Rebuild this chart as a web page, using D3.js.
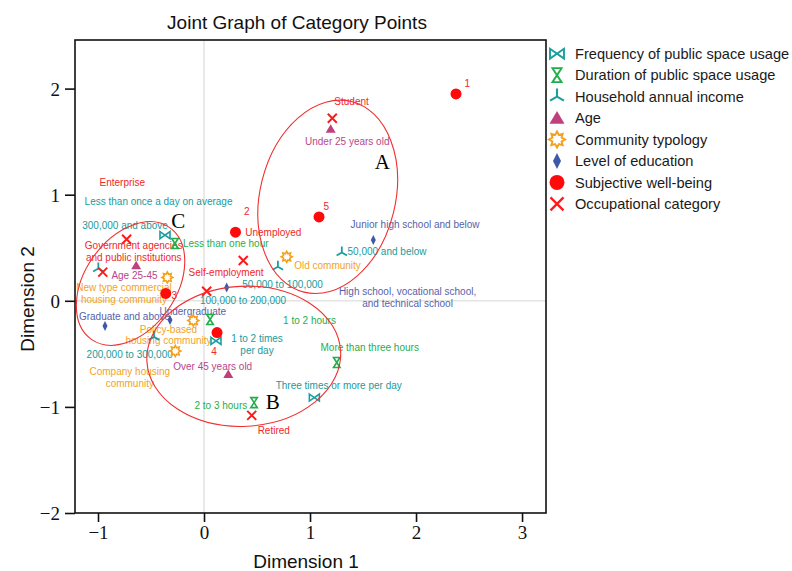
<!DOCTYPE html>
<html>
<head>
<meta charset="utf-8">
<script src="https://cdn.jsdelivr.net/npm/d3@7"></script>
<style>
  html, body { margin: 0; padding: 0; background: #fff; }
  svg { display: block; }
</style>
</head>
<body>
<svg id="chart" width="792" height="571"></svg>
<script>
// ---- Category point coordinates (Dimension 1, Dimension 2) ----
const freqCats = ["Less than once a day on average", "1 to 2 times per day", "Three times or more per day"];
const freqDim1 = [-0.368, 0.113, 1.041];
const freqDim2 = [0.619, -0.378, -0.912];

const durCats = ["Less than one hour", "1 to 2 hours", "2 to 3 hours", "More than three hours"];
const durDim1 = [-0.274, 0.057, 0.472, 1.252];
const durDim2 = [0.540, -0.176, -0.960, -0.582];

const incomeCats = ["300,000 and above", "200,000 to 300,000", "100,000 to 200,000", "50,000 to 100,000", "50,000 and below"];
const incomeDim1 = [-0.997, -0.472, null, 0.697, 1.300];
const incomeDim2 = [0.305, -0.340, null, 0.320, 0.455];

const ageCats = ["Under 25 years old", "Age 25-45", "Over 45 years old"];
const ageDim1 = [1.195, -0.640, 0.229];
const ageDim2 = [1.620, 0.333, -0.692];

const commCats = ["New type commercial housing community", "Policy-based housing community", "Company housing community", "Old community"];
const commDim1 = [-0.346, -0.101, -0.271, 0.780];
const commDim2 = [0.220, -0.186, -0.473, 0.414];

const eduCats = ["Junior high school and below", "High school, vocational school, and technical school", "Undergraduate", "Graduate and above"];
const eduDim1 = [1.597, 0.214, -0.321, -0.934];
const eduDim2 = [0.572, 0.125, -0.180, -0.237];

const swbCats = ["1", "2", "3", "4", "5"];
const swbDim1 = [2.377, 0.297, -0.361, 0.123, 1.085];
const swbDim2 = [1.950, 0.647, 0.069, -0.299, 0.790];

const occCats = ["Enterprise", "Government agencies and public institutions", "Unemployed", "Self-employment", "Student", "Retired"];
const occDim1 = [-0.730, -0.955, 0.370, 0.025, 1.210, 0.450];
const occDim2 = [0.580, 0.270, 0.380, 0.090, 1.720, -1.080];

const xTicks = [-1, 0, 1, 2, 3];
const yTicks = [-2, -1, 0, 1, 2];

// Cluster outlines: centre, semi-axes (data units), tilt in degrees, tag
const clusterTags = ["A", "B", "C"];
const clusterCx = [1.167, 0.375, -0.693];
const clusterCy = [0.980, -0.523, 0.163];
const clusterRx = [0.638, 0.915, 0.432];
const clusterRy = [0.926, 0.660, 0.643];
const clusterTilt = [14, -3, 35];
const clusterTagX = [1.682, 0.648, -0.242];
const clusterTagY = [1.310, -0.947, 0.760];

// ---- Label placement (data units, text centre) ----
const labelAt = {
  "Enterprise": [-0.771, 1.116],
  "Government agencies and public institutions": [-0.663, 0.466],
  "Self-employment": [0.208, 0.263],
  "Unemployed": [0.654, 0.647],
  "Student": [1.392, 1.874],
  "Retired": [0.658, -1.221],
  "1": [2.484, 2.050], "2": [0.403, 0.845], "3": [-0.280, 0.053], "4": [0.094, -0.475], "5": [1.154, 0.886],
  "Under 25 years old": [1.351, 1.506],
  "Age 25-45": [-0.656, 0.239],
  "Over 45 years old": [0.082, -0.617],
  "New type commercial housing community": [-0.755, 0.070],
  "Old community": [1.165, 0.329],
  "Policy-based housing community": [-0.335, -0.322],
  "Company housing community": [-0.700, -0.721],
  "Junior high school and below": [1.991, 0.720],
  "High school, vocational school, and technical school": [1.920, 0.029],
  "Undergraduate": [-0.106, -0.098],
  "Graduate and above": [-0.750, -0.152],
  "Less than once a day on average": [-0.429, 0.933],
  "300,000 and above": [-0.745, 0.713],
  "200,000 to 300,000": [-0.701, -0.504],
  "100,000 to 200,000": [0.368, 0.006],
  "50,000 to 100,000": [0.741, 0.155],
  "50,000 and below": [1.726, 0.461],
  "1 to 2 times per day": [0.500, -0.411],
  "Three times or more per day": [1.271, -0.799],
  "Less than one hour": [0.205, 0.539],
  "1 to 2 hours": [0.995, -0.190],
  "2 to 3 hours": [0.159, -0.985],
  "More than three hours": [1.563, -0.444]
};
const lineBreaks = {
  "Government agencies and public institutions": ["Government agencies", "and public institutions"],
  "New type commercial housing community": ["New type commercial", "housing community"],
  "Policy-based housing community": ["Policy-based", "housing community"],
  "Company housing community": ["Company housing", "community"],
  "High school, vocational school, and technical school": ["High school, vocational school,", "and technical school"],
  "1 to 2 times per day": ["1 to 2 times", "per day"]
};

// ---- Marker shapes ----
function bowtie(s) { const w = s, h = s * 0.7;
  return `M${-w/2},${-h/2}L${w/2},${h/2}L${w/2},${-h/2}L${-w/2},${h/2}Z`; }
function hourglass(s) { const w = s * 0.65, h = s;
  return `M${-w/2},${-h/2}L${w/2},${-h/2}L${-w/2},${h/2}L${w/2},${h/2}Z`; }
function tri(s) { const a = s / 2;
  return `M0,0L0,${-a}M0,0L${-a*0.866},${a*0.5}M0,0L${a*0.866},${a*0.5}`; }
function triangle(s) { const w = s, h = s * 0.85;
  return `M0,${-h*0.55}L${w/2},${h*0.45}L${-w/2},${h*0.45}Z`; }
function star(s) { const R = s / 2, r = R * 0.62; let p = "";
  for (let i = 0; i < 16; i++) { const ang = Math.PI * i / 8 - Math.PI / 2, rad = i % 2 ? r : R;
    p += (i ? "L" : "M") + (rad * Math.cos(ang)).toFixed(2) + "," + (rad * Math.sin(ang)).toFixed(2); }
  return p + "Z"; }
function diamond(s) { const w = s * 0.5, h = s;
  return `M0,${-h/2}L${w/2},0L0,${h/2}L${-w/2},0Z`; }
function circle(s) { const r = s / 2;
  return `M${r},0A${r},${r} 0 1,1 ${-r},0A${r},${r} 0 1,1 ${r},0Z`; }
function cross(s) { const a = s / 2;
  return `M${-a},${-a}L${a},${a}M${-a},${a}L${a},${-a}`; }

const series = [
  { name: "Frequency of public space usage", cats: freqCats, d1: freqDim1, d2: freqDim2,
    shape: bowtie, size: 10, lsize: 14, fill: "none", stroke: "#1a9e9e", sw: 1.6, text: "#1a9a9a" },
  { name: "Duration of public space usage", cats: durCats, d1: durDim1, d2: durDim2,
    shape: hourglass, size: 10, lsize: 14, fill: "none", stroke: "#1fae4a", sw: 1.6, text: "#1fae4a" },
  { name: "Household annual income", cats: incomeCats, d1: incomeDim1, d2: incomeDim2,
    shape: tri, size: 12, lsize: 16, fill: "none", stroke: "#1a9e9e", sw: 1.8, text: "#1a9a9a" },
  { name: "Age", cats: ageCats, d1: ageDim1, d2: ageDim2,
    shape: triangle, size: 10, lsize: 15, fill: "#c0407e", stroke: "none", sw: 0, text: "#b8478a" },
  { name: "Community typology", cats: commCats, d1: commDim1, d2: commDim2,
    shape: star, size: 11, lsize: 16, fill: "none", stroke: "#f6a01a", sw: 1.6, text: "#f4a21c" },
  { name: "Level of education", cats: eduCats, d1: eduDim1, d2: eduDim2,
    shape: diamond, size: 10, lsize: 16, fill: "#3f58a8", stroke: "none", sw: 0, text: "#5563aa" },
  { name: "Subjective well-being", cats: swbCats, d1: swbDim1, d2: swbDim2,
    shape: circle, size: 11, lsize: 15, fill: "#ff0a0a", stroke: "none", sw: 0, text: "#f02828" },
  { name: "Occupational category", cats: occCats, d1: occDim1, d2: occDim2,
    shape: cross, size: 9, lsize: 13, fill: "none", stroke: "#ff1a1a", sw: 2, text: "#f02828" }
];

// ---- Layout ----
const svg = d3.select("#chart");
const x = d3.scaleLinear().domain([-1.217, 3.226]).range([75, 546]);
const y = d3.scaleLinear().domain([-2, 2.458]).range([513, 40]);

// reference lines through the origin
svg.append("line").attr("x1", x(0)).attr("x2", x(0)).attr("y1", y(2.458)).attr("y2", y(-2))
  .attr("stroke", "#e4e4e4").attr("stroke-width", 1.6);
svg.append("line").attr("y1", y(0)).attr("y2", y(0)).attr("x1", x(-1.217)).attr("x2", x(3.226))
  .attr("stroke", "#e4e4e4").attr("stroke-width", 1.6);

// axes
const serif = "'Liberation Serif', 'DejaVu Serif', serif";
const sans = "'Liberation Sans', Arial, sans-serif";
const xAxis = svg.append("g").attr("transform", `translate(0,${y(-2)})`)
  .call(d3.axisBottom(x).tickValues(xTicks).tickSize(9).tickPadding(4).tickFormat(d3.format("d")));
const yAxis = svg.append("g").attr("transform", `translate(${x(-1.217)},0)`)
  .call(d3.axisLeft(y).tickValues(yTicks).tickSize(10).tickPadding(5).tickFormat(d3.format("d")));
[xAxis, yAxis].forEach(g => {
  g.select(".domain").remove();
  g.selectAll("line").attr("stroke", "#111").attr("stroke-width", 1.6);
  g.selectAll("text").attr("font-family", serif).attr("font-size", 19).attr("fill", "#111");
});
yAxis.selectAll("text").attr("dy", "0.34em");
svg.append("rect").attr("x", x(-1.217)).attr("y", y(2.458))
  .attr("width", x(3.226) - x(-1.217)).attr("height", y(-2) - y(2.458))
  .attr("fill", "none").attr("stroke", "#111").attr("stroke-width", 1.6);

// titles
svg.append("text").attr("x", 297).attr("y", 29).attr("text-anchor", "middle")
  .attr("font-family", sans).attr("font-size", 19).attr("fill", "#111")
  .text("Joint Graph of Category Points");
svg.append("text").attr("x", 306).attr("y", 568).attr("text-anchor", "middle")
  .attr("font-family", sans).attr("font-size", 19).attr("fill", "#111").text("Dimension 1");
svg.append("text").attr("transform", "translate(34,299) rotate(-90)").attr("text-anchor", "middle")
  .attr("font-family", sans).attr("font-size", 19).attr("fill", "#111").text("Dimension 2");

// labels
const labelLayer = svg.append("g").attr("font-family", sans).attr("font-size", 10);
series.forEach(s => {
  s.cats.forEach(c => {
    const pos = labelAt[c];
    if (!pos) return;
    const lines = lineBreaks[c] || [c];
    const t = labelLayer.append("text").attr("text-anchor", "middle").attr("fill", s.text);
    const lh = 11.7, y0 = y(pos[1]) - (lines.length - 1) * lh / 2;
    lines.forEach((ln, i) => {
      t.append("tspan").attr("x", x(pos[0])).attr("y", y0 + i * lh).attr("dy", "0.35em").text(ln);
    });
  });
});

// markers
const markLayer = svg.append("g");
series.forEach(s => {
  const pts = s.cats.map((c, i) => ({ c, v1: s.d1[i], v2: s.d2[i] })).filter(p => p.v1 != null);
  markLayer.selectAll(null).data(pts).enter().append("path")
    .attr("transform", p => `translate(${x(p.v1)},${y(p.v2)})`)
    .attr("d", s.shape(s.size))
    .attr("fill", s.fill).attr("stroke", s.stroke).attr("stroke-width", s.sw)
    .attr("stroke-linejoin", "miter");
});

// cluster outlines
const clusters = clusterTags.map((t, i) => ({ t, cx: clusterCx[i], cy: clusterCy[i], rx: clusterRx[i], ry: clusterRy[i],
  tilt: clusterTilt[i], tx: clusterTagX[i], ty: clusterTagY[i] }));
svg.append("g").selectAll("ellipse").data(clusters).enter().append("ellipse")
  .attr("transform", d => `translate(${x(d.cx)},${y(d.cy)}) rotate(${d.tilt})`)
  .attr("rx", d => x(d.rx) - x(0)).attr("ry", d => y(0) - y(d.ry))
  .attr("fill", "none").attr("stroke", "#f03030").attr("stroke-width", 1.1);
svg.append("g").selectAll("text").data(clusters).enter().append("text")
  .attr("x", d => x(d.tx)).attr("y", d => y(d.ty)).attr("dy", "0.35em").attr("text-anchor", "middle")
  .attr("font-family", serif).attr("font-size", 21).attr("fill", "#000").text(d => d.t);

// legend
const legend = svg.append("g").attr("transform", "translate(557,53.7)");
series.forEach((s, i) => {
  const g = legend.append("g").attr("transform", `translate(0,${i * 21.45})`);
  g.append("path").attr("d", s.shape(s.lsize))
    .attr("fill", s.fill).attr("stroke", s.stroke).attr("stroke-width", s.sw ? s.sw + 0.3 : 0);
  g.append("text").attr("x", 18).attr("dy", "0.35em").attr("font-family", sans)
    .attr("font-size", 14.6).attr("fill", "#1a1a1a").text(s.name);
});
</script>
</body>
</html>
